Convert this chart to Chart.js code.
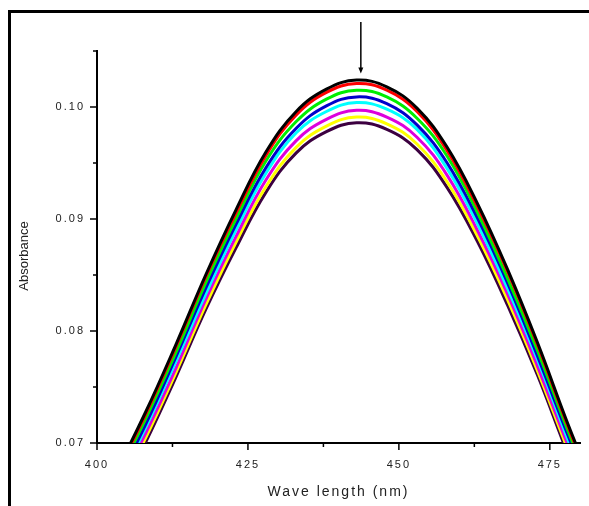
<!DOCTYPE html>
<html>
<head>
<meta charset="utf-8">
<script src="https://cdn.jsdelivr.net/npm/chart.js@4/dist/chart.umd.min.js"></script>
<style>
  html, body { margin: 0; padding: 0; background: #fff; }
  #wrap { position: relative; width: 589px; height: 506px; overflow: hidden; }
  #frame { position: absolute; left: 8px; top: 10px; width: 600px; height: 520px;
           border-left: 3px solid #000; border-top: 3px solid #000; pointer-events: none; }
  canvas { position: absolute; left: 0; top: 0; }
</style>
</head>
<body>
<div id="wrap">
  <canvas id="chart" width="589" height="506"></canvas>
  <div id="frame"></div>
</div>
<script>
// wavelength (nm) sampled along the curves
const wavelength = [398, 403, 408, 413, 418, 423, 428, 433, 438, 443, 448, 453, 458, 463, 468, 473, 478, 483];

// absorbance of each spectrum, top to bottom
const absBlack   = [0.0625, 0.0673, 0.0727, 0.0787, 0.0850, 0.0908, 0.0960, 0.0996, 0.1016, 0.1024, 0.1018, 0.0999, 0.0964, 0.0914, 0.0855, 0.0789, 0.0717, 0.0650];
const absRed     = [0.0623, 0.0671, 0.0725, 0.0785, 0.0848, 0.0905, 0.0957, 0.0993, 0.1013, 0.1021, 0.1015, 0.0996, 0.0961, 0.0911, 0.0853, 0.0787, 0.0715, 0.0648];
const absGreen   = [0.0619, 0.0667, 0.0721, 0.0780, 0.0843, 0.0900, 0.0952, 0.0987, 0.1007, 0.1015, 0.1009, 0.0990, 0.0956, 0.0906, 0.0847, 0.0782, 0.0711, 0.0644];
const absBlue    = [0.0616, 0.0663, 0.0716, 0.0776, 0.0838, 0.0895, 0.0946, 0.0981, 0.1001, 0.1009, 0.1003, 0.0984, 0.0950, 0.0901, 0.0843, 0.0777, 0.0707, 0.0641];
const absCyan    = [0.0613, 0.0660, 0.0713, 0.0772, 0.0833, 0.0890, 0.0941, 0.0977, 0.0996, 0.1004, 0.0998, 0.0980, 0.0945, 0.0896, 0.0838, 0.0774, 0.0703, 0.0637];
const absMagenta = [0.0609, 0.0655, 0.0708, 0.0766, 0.0828, 0.0884, 0.0935, 0.0970, 0.0989, 0.0997, 0.0991, 0.0973, 0.0939, 0.0890, 0.0833, 0.0768, 0.0698, 0.0633];
const absYellow  = [0.0605, 0.0651, 0.0704, 0.0762, 0.0823, 0.0879, 0.0929, 0.0964, 0.0983, 0.0991, 0.0985, 0.0967, 0.0933, 0.0885, 0.0828, 0.0764, 0.0694, 0.0629];
const absPurple  = [0.0602, 0.0648, 0.0700, 0.0758, 0.0819, 0.0874, 0.0924, 0.0959, 0.0978, 0.0986, 0.0980, 0.0962, 0.0928, 0.0880, 0.0823, 0.0760, 0.0690, 0.0626];

// axes
const xMin = 400, xMax = 480, xStep = 12.5, xLabelEvery = 25;
const yMin = 0.07, yMax = 0.105, yStep = 0.005, yLabelEvery = 0.01;

// arrow over the peak (wavelength, absorbance from -> to)
const arrowX = 443.7, arrowFrom = 0.1076, arrowTo = 0.1030;

const series = [
  { data: absBlack,   color: '#000000' },
  { data: absRed,     color: '#ff0000' },
  { data: absGreen,   color: '#00ee00' },
  { data: absBlue,    color: '#0000cc' },
  { data: absCyan,    color: '#00ffff' },
  { data: absMagenta, color: '#dd00dd' },
  { data: absYellow,  color: '#ffff00' },
  { data: absPurple,  color: '#3c0040' }
];

const isMajor = (v, every) => Math.abs(Math.round(v / every) * every - v) < every * 1e-6;

// short tick marks pointing outwards, longer on labelled ticks, plus the arrow
const axisTicks = {
  id: 'axisTicks',
  afterDraw(chart) {
    const ctx = chart.ctx;
    const x = chart.scales.x, y = chart.scales.y;
    ctx.save();
    ctx.strokeStyle = '#000';
    ctx.lineWidth = 1.5;
    x.ticks.forEach(t => {
      const px = x.getPixelForValue(t.value);
      const len = isMajor(t.value, xLabelEvery) ? 7 : 4;
      ctx.beginPath();
      ctx.moveTo(px, x.top);
      ctx.lineTo(px, x.top + len);
      ctx.stroke();
    });
    y.ticks.forEach(t => {
      const py = y.getPixelForValue(t.value);
      const len = isMajor(t.value, yLabelEvery) ? 7 : 4;
      ctx.beginPath();
      ctx.moveTo(y.right, py);
      ctx.lineTo(y.right - len, py);
      ctx.stroke();
    });

    const ax = x.getPixelForValue(arrowX);
    const a0 = y.getPixelForValue(arrowFrom);
    const a1 = y.getPixelForValue(arrowTo);
    ctx.beginPath();
    ctx.moveTo(ax, a0);
    ctx.lineTo(ax, a1 - 4);
    ctx.stroke();
    ctx.fillStyle = '#000';
    ctx.beginPath();
    ctx.moveTo(ax - 2.5, a1 - 6);
    ctx.lineTo(ax + 2.5, a1 - 6);
    ctx.lineTo(ax, a1);
    ctx.closePath();
    ctx.fill();
    ctx.restore();
  }
};

// wide letter spacing like the original; the y title is set tight and a little lower
const spacing = {
  id: 'spacing',
  beforeDraw(chart) {
    chart.ctx.letterSpacing = '2px';
    const ys = chart.scales.y;
    if (!ys._tightTitle) {
      const orig = ys.drawTitle;
      ys.drawTitle = function() {
        const ctx = this.ctx;
        ctx.save();
        ctx.letterSpacing = '0px';
        ctx.translate(0, 9);
        orig.call(this);
        ctx.restore();
      };
      ys._tightTitle = true;
    }
  }
};

new Chart(document.getElementById('chart'), {
  type: 'line',
  data: {
    labels: wavelength,
    datasets: series.map((s, i) => ({
      data: s.data.map((v, j) => ({ x: wavelength[j], y: v })),
      borderColor: s.color,
      borderWidth: 3,
      pointRadius: 0,
      tension: 0.4,
      fill: false,
      order: i
    }))
  },
  options: {
    responsive: false,
    animation: false,
    layout: { padding: { left: 0, top: 51, right: 9, bottom: 0 } },
    plugins: { legend: { display: false }, tooltip: { enabled: false } },
    scales: {
      x: {
        type: 'linear',
        min: xMin,
        max: xMax,
        afterFit: s => { s.height = 63; },
        grid: { display: false, drawTicks: false },
        border: { display: true, color: '#000', width: 2 },
        ticks: {
          stepSize: xStep,
          includeBounds: false,
          autoSkip: false,
          maxRotation: 0,
          padding: 15,
          color: '#222',
          font: { family: 'Liberation Sans', size: 11 },
          callback: v => isMajor(v, xLabelEvery) ? String(v) : ''
        },
        title: {
          display: true,
          text: 'Wave length (nm)',
          color: '#222',
          font: { family: 'Liberation Sans', size: 14 },
          padding: { top: 0, bottom: 5 }
        }
      },
      y: {
        type: 'linear',
        min: yMin,
        max: yMax,
        afterFit: s => { s.width = 97; },
        grid: { display: false, drawTicks: false },
        border: { display: true, color: '#000', width: 2 },
        ticks: {
          stepSize: yStep,
          autoSkip: false,
          padding: 12,
          color: '#222',
          font: { family: 'Liberation Sans', size: 11 },
          callback: v => isMajor(v, yLabelEvery) ? v.toFixed(2) : ''
        },
        title: {
          display: true,
          text: 'Absorbance',
          color: '#222',
          font: { family: 'Liberation Sans', size: 13 },
          padding: { top: 17, bottom: 0 }
        }
      }
    }
  },
  plugins: [spacing, axisTicks]
});
</script>
</body>
</html>
